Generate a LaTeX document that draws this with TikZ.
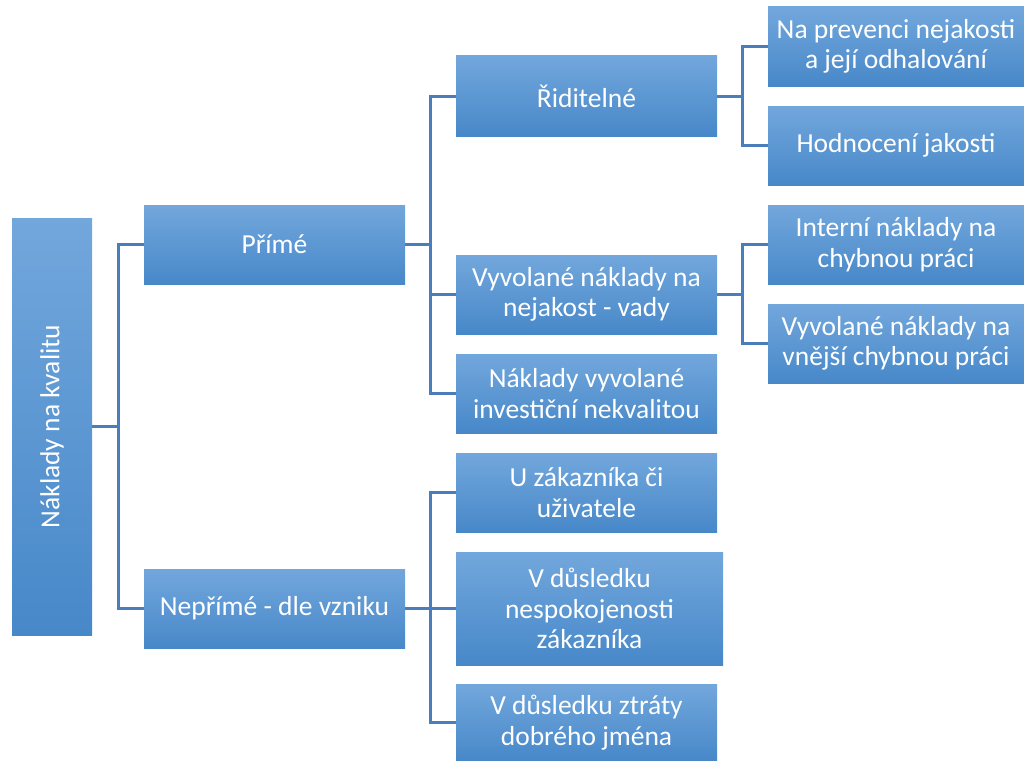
\documentclass[tikz,border=0pt]{standalone}
\usepackage{fontspec}
\setmainfont{Carlito}
\definecolor{boxtop}{RGB}{114,167,220}
\definecolor{boxmid}{RGB}{91,155,213}
\definecolor{boxbot}{RGB}{71,136,201}
\definecolor{linkblue}{RGB}{74,126,187}
\begin{document}
\begin{tikzpicture}[x=1pt,y=-1pt,
  box/.style={anchor=north west, inner sep=0pt, outer sep=0pt,
    top color=boxtop, middle color=boxmid, bottom color=boxbot,
    text=white, align=center,
    font=\fontsize{27.5}{30.5}\selectfont},
  conn/.style={draw=linkblue, line width=3pt}]
\useasboundingbox (0,0) rectangle (1024,760);

% boxes: (left, top), width x height
\node[box, minimum width=80, minimum height=417] (root) at (12,218) {};
\node[rotate=90, text=white, font=\fontsize{27.5}{30.5}\selectfont] at (root.center) {Náklady na kvalitu};

\node[box, minimum width=261, minimum height=79] (prime) at (144,205) {Přímé};
\node[box, minimum width=261, minimum height=79] (neprime) at (144,569) {Nepřímé - dle vzniku};

\node[box, minimum width=261, minimum height=80] (ridit) at (456,56) {Řiditelné};
\node[box, minimum width=261, minimum height=79] (vyv) at (456,255) {Vyvolané náklady na\\nejakost - vady};
\node[box, minimum width=261, minimum height=79] (invest) at (456,354) {Náklady vyvolané\\investiční nekvalitou};
\node[box, minimum width=261, minimum height=79] (uzak) at (456,453) {U zákazníka či\\uživatele};
\node[box, minimum width=267, minimum height=113] (nespok) at (456,552) {V důsledku\\nespokojenosti\\zákazníka};
\node[box, minimum width=261, minimum height=77] (ztraty) at (456,684) {V důsledku ztráty\\dobrého jména};

\node[box, minimum width=256, minimum height=79] (prev) at (768,7) {Na prevenci nejakosti\\a její odhalování};
\node[box, minimum width=256, minimum height=79] (hodn) at (768,106) {Hodnocení jakosti};
\node[box, minimum width=256, minimum height=79] (intern) at (768,205) {Interní náklady na\\chybnou práci};
\node[box, minimum width=256, minimum height=79] (vnej) at (768,304) {Vyvolané náklady na\\vnější chybnou práci};

% connectors
\draw[conn] (root.east) -- ++(26,0);
\draw[conn] (prime.west) -- ++(-26,0) |- (neprime.west);

\draw[conn] (prime.east) -- ++(25,0);
\draw[conn] (ridit.west) -- ++(-26,0) |- (invest.west);
\draw[conn] (vyv.west) -- ++(-26,0);

\draw[conn] (neprime.east) -- (nespok.west);
\draw[conn] (uzak.west) -- ++(-26,0) |- (ztraty.west);

\draw[conn] (ridit.east) -- ++(25,0);
\draw[conn] (prev.west) -- ++(-26,0) |- (hodn.west);

\draw[conn] (vyv.east) -- ++(25,0);
\draw[conn] (intern.west) -- ++(-26,0) |- (vnej.west);
\end{tikzpicture}
\end{document}
